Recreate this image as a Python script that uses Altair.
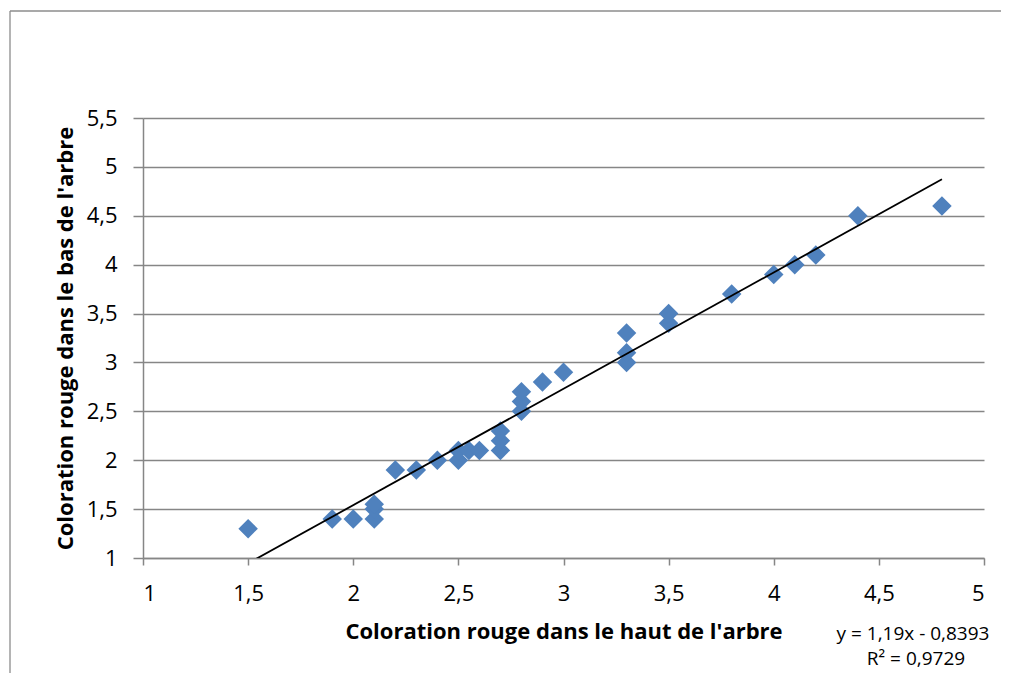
import altair as alt
import pandas as pd

# --- data ---
x_haut = [1.5, 1.9, 2.0, 2.1, 2.1, 2.1, 2.2, 2.3, 2.4, 2.5, 2.5, 2.55, 2.6,
          2.7, 2.7, 2.7, 2.8, 2.8, 2.8, 2.9, 3.0, 3.3, 3.3, 3.3, 3.5, 3.5,
          3.8, 4.0, 4.1, 4.2, 4.4, 4.8]
y_bas = [1.3, 1.4, 1.4, 1.4, 1.5, 1.55, 1.9, 1.9, 2.0, 2.0, 2.1, 2.1, 2.1,
         2.1, 2.2, 2.3, 2.5, 2.6, 2.7, 2.8, 2.9, 3.0, 3.1, 3.3, 3.4, 3.5,
         3.7, 3.9, 4.0, 4.1, 4.5, 4.6]
x_ticks = [1, 1.5, 2, 2.5, 3, 3.5, 4, 4.5, 5]
y_ticks = [1, 1.5, 2, 2.5, 3, 3.5, 4, 4.5, 5, 5.5]
trend_slope = 1.19
trend_intercept = -0.8393
trend_x = [1.5, 4.8]
eq_lines = ["y = 1,19x - 0,8393", "R² = 0,9729"]

pts = pd.DataFrame({"x": x_haut, "y": y_bas})
trend = pd.DataFrame({"x": trend_x,
                      "y": [trend_slope * v + trend_intercept for v in trend_x]})

FONT = "Open Sans"
GRAY = "#868686"
BLUE = "#4F81BD"
comma = "replace(toString(datum.value), '.', ',')"

xscale = alt.Scale(domain=[1, 5], nice=False, zero=False)
yscale = alt.Scale(domain=[1, 5.5], nice=False, zero=False)

points = alt.Chart(pts).mark_point(
    shape="diamond", filled=True, size=380, color=BLUE, opacity=1
).encode(
    x=alt.X("x:Q", scale=xscale, axis=alt.Axis(
        values=x_ticks, labelExpr=comma, grid=False,
        title="Coloration rouge dans le haut de l'arbre",
        tickSize=7, labelPadding=35, labelBaseline="alphabetic",
        titleY=80, titleBaseline="alphabetic")),
    y=alt.Y("y:Q", scale=yscale, axis=alt.Axis(
        values=y_ticks, labelExpr=comma, grid=True,
        title="Coloration rouge dans le bas de l'arbre",
        tickSize=10, labelPadding=16, labelBaseline="middle",
        titleX=-71, titleBaseline="alphabetic", titleAngle=270)),
)

line = alt.Chart(trend).mark_line(color="black", strokeWidth=1.8, clip=True).encode(
    x=alt.X("x:Q", scale=xscale), y=alt.Y("y:Q", scale=yscale)
)

eq1 = alt.Chart(pd.DataFrame({"t": [eq_lines[0]]})).mark_text(
    font=FONT, fontSize=19, align="center", baseline="alphabetic", color="black"
).encode(text="t:N", x=alt.value(770), y=alt.value(522))
eq2 = alt.Chart(pd.DataFrame({"t": [eq_lines[1]]})).mark_text(
    font=FONT, fontSize=19, align="center", baseline="alphabetic", color="black"
).encode(text="t:N", x=alt.value(773), y=alt.value(547))

border_left = alt.Chart(pd.DataFrame({"a": [0]})).mark_rule(
    color="#8C8C8C", strokeWidth=1.3
).encode(x=alt.value(-133), y=alt.value(-107), y2=alt.value(560))
border_top = alt.Chart(pd.DataFrame({"a": [0]})).mark_rule(
    color="#8C8C8C", strokeWidth=1.3
).encode(x=alt.value(-133), x2=alt.value(870), y=alt.value(-107))

chart = alt.layer(border_left, border_top, points, line, eq1, eq2).properties(
    width=841, height=440,
    autosize=alt.AutoSizeParams(type="none"),
    padding={"left": 135, "top": 110, "right": 17, "bottom": 115},
).configure_axis(
    domainColor=GRAY, tickColor=GRAY, gridColor=GRAY,
    domainWidth=1.5, tickWidth=1.5, gridWidth=1.5,
    labelFont=FONT, labelFontSize=22, labelColor="black",
    titleFont=FONT, titleFontSize=22, titleFontWeight="bold", titleColor="black",
).configure_view(stroke=None)

chart.save("out.html", embed_options={"renderer": "svg", "actions": False})
